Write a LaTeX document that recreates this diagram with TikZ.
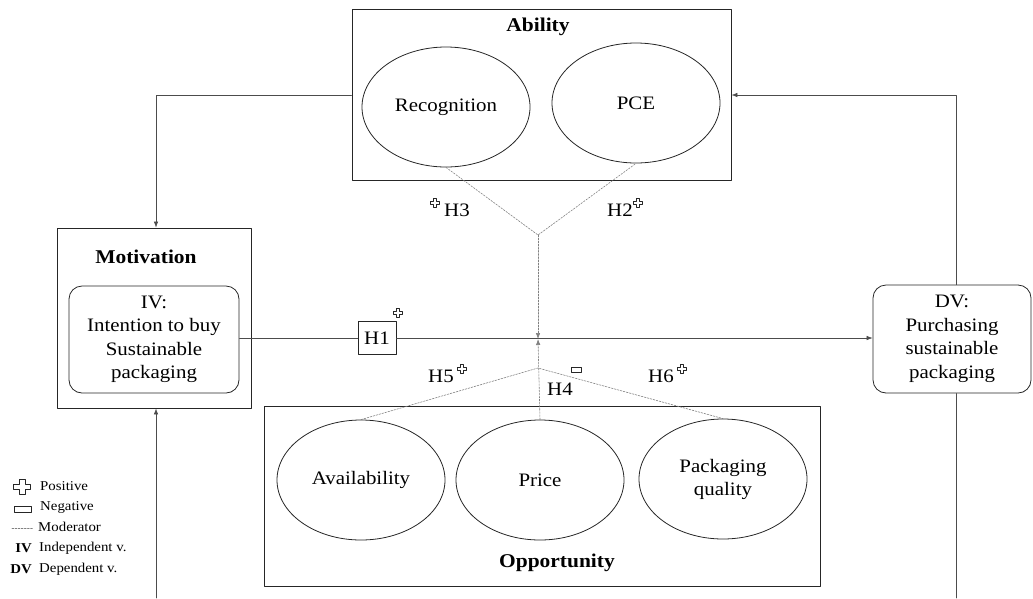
\documentclass[tikz,border=0pt]{standalone}
\usepackage{fontspec}
\setmainfont[FakeStretch=1.1]{Liberation Serif}
\usetikzlibrary{arrows.meta, shapes.geometric, positioning}

\begin{document}
\begin{tikzpicture}[x=1pt, y=-1pt, line cap=round, line join=round,
	frame/.style={draw=black!85, line width=0.9pt},
	construct/.style={ellipse, draw=black!85, line width=0.8pt, minimum width=168pt,
		minimum height=120pt, align=center, font=\fontsize{19}{23}\selectfont},
	varbox/.style={draw=black!85, line width=0.8pt, rounded corners=13pt, align=center,
		font=\fontsize{19}{23.5}\selectfont},
	title/.style={font=\bfseries\fontsize{19.5}{22}\selectfont},
	link/.style={draw=black!70, line width=0.6pt},
	modline/.style={draw=black!50, line width=0.6pt, dash pattern=on 1.8pt off 1.3pt},
	tip/.style={-{Latex[length=6pt,width=4.5pt]}},
	hyp/.style={font=\fontsize{19}{22}\selectfont, inner sep=0pt},
	legend/.style={font=\fontsize{13.5}{15}\selectfont, anchor=west, inner sep=0pt},
	plussign/.pic={\draw[black!85, line width=0.6pt, fill=white]
		(-1,-3)--(1,-3)--(1,-1)--(3,-1)--(3,1)--(1,1)--(1,3)--(-1,3)--(-1,1)--(-3,1)--(-3,-1)--(-1,-1)--cycle;}
]
\useasboundingbox (0,0) rectangle (1033,598);

% Ability
\node[frame, minimum width=379pt, minimum height=171pt, inner sep=0pt] (ability) at (541.5,94.5) {};
\node[title] (abilityT) at (538,27) {Ability};
\node[construct] (recog) at (446,107) {Recognition};
\node[construct] (pce) at (636,103) {PCE};

% Motivation
\node[frame, minimum width=194pt, minimum height=180pt, inner sep=0pt] (motiv) at (154,318) {};
\node[title] (motivT) at (146,257) {Motivation};
\node[varbox, minimum width=170pt, minimum height=107pt, inner sep=0pt] (iv) at (154,339.5)
	{IV:\\Intention to buy\\Sustainable\\packaging};

% Opportunity
\node[frame, minimum width=556pt, minimum height=180pt, inner sep=0pt] (opp) at (542,496) {};
\node[title] (oppT) at (557,563) {Opportunity};
\node[construct] (avail) at (361,480) {Availability};
\node[construct] (price) at (540,480) {Price};
\node[construct] (quality) at (723,479) {Packaging\\quality};

% DV
\node[varbox, minimum width=158pt, minimum height=108pt, inner sep=0pt] (dv) at (952,339)
	{DV:\\Purchasing\\sustainable\\packaging};

% H1
\node[draw=black!85, line width=0.8pt, minimum width=38pt, minimum height=33pt, inner sep=0pt,
	font=\fontsize{19}{22}\selectfont] (h1) at (377,338) {H1};

% junctions
\coordinate (abJ) at (538,235);
\coordinate (opJ) at (538,368);
\coordinate (mod) at (538,339);
\coordinate (tl) at (156,95);
\coordinate (tr) at (956,95);
\coordinate (bl) at (156,598);
\coordinate (br) at (956,598);

% main paths
\draw[link] (iv.east |- h1) -- (h1.west);
\draw[link, tip] (h1.east) -- (h1.east -| dv.west);
\draw[link, tip] (ability.west |- tl) -- (tl) -- (motiv.north -| tl);
\draw[link, tip] (dv.north -| tr) -- (tr) -- (ability.east |- tr);
\draw[link, tip] (bl) -- (motiv.south -| bl);
\draw[link] (dv.south -| br) -- (br);

% moderators
\draw[modline] (recog.south) -- (abJ) -- (pce.south);
\draw[modline] (avail.north) -- (opJ) -- (quality.north);
\draw[modline, tip] (abJ) -- (mod);
\draw[modline, tip] (price.north) -- (mod);

% hypotheses
\node[hyp] (h3) at (457,210) {H3};
\node[hyp] (h2) at (620,210) {H2};
\node[hyp] (h5) at (441,376) {H5};
\node[hyp] (h4) at (560,389) {H4};
\node[hyp] (h6) at (661,376) {H6};
\pic[scale=1.5] at (435,203) {plussign};
\pic[scale=1.5] at (638,203) {plussign};
\pic[scale=1.5] at (398,313) {plussign};
\pic[scale=1.5] at (462,369) {plussign};
\pic[scale=1.5] at (682,369) {plussign};
\draw[black!85, line width=0.6pt] (571,367) rectangle (581,372);

% legend
\pic[xscale=2.9, yscale=2.5] at (22,486.5) {plussign};
\draw[black!85, line width=0.6pt] (14,506) rectangle (31,512);
\draw[modline] (12,528) -- (33,528);
\node[legend] (lpos) at (40,486) {Positive};
\node[legend] (lneg) at (40,507) {Negative};
\node[legend] (lmod) at (38,527) {Moderator};
\node[legend] (lind) at (39,548) {Independent v.};
\node[legend] (ldep) at (39,569) {Dependent v.};
\node[legend, anchor=east, font=\bfseries\fontsize{13.5}{15}\selectfont] (liv) at (32,548) {IV};
\node[legend, anchor=east, font=\bfseries\fontsize{13.5}{15}\selectfont] (ldv) at (32,569) {DV};
\end{tikzpicture}
\end{document}
